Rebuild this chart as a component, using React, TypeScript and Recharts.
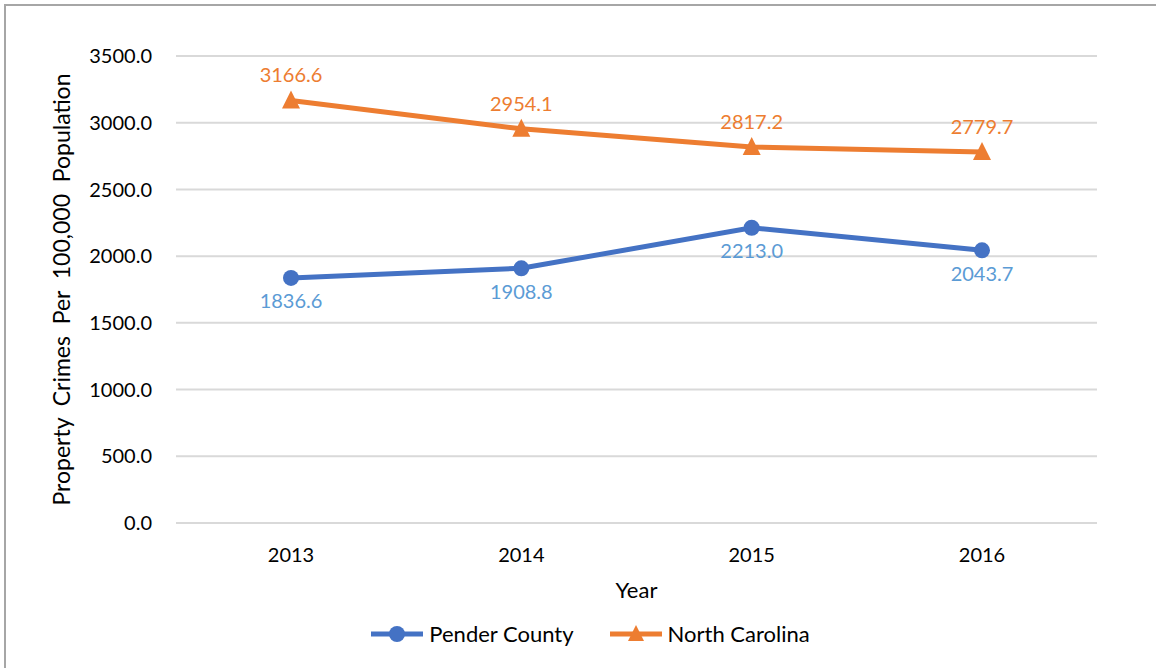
import { CartesianGrid, Legend, Line, LineChart, XAxis, YAxis } from "recharts";

const years = ["2013", "2014", "2015", "2016"];
const penderCounty = [1836.6, 1908.8, 2213.0, 2043.7];
const northCarolina = [3166.6, 2954.1, 2817.2, 2779.7];
const yTicks = [0, 500, 1000, 1500, 2000, 2500, 3000, 3500];

const data = years.map((year, i) => ({
  year,
  pender: penderCounty[i],
  nc: northCarolina[i],
}));

const BLUE = "#4472C4";
const BLUE_LABEL = "#5B9BD5";
const ORANGE = "#ED7D31";
const FONT = "Lato, 'Open Sans', sans-serif";

const Triangle = (props: any) => {
  const { cx, cy, index } = props;
  if (cx == null || cy == null) return null;
  return (
    <polygon
      key={`tri-${index}`}
      points={`${cx},${cy - 10} ${cx - 9},${cy + 8} ${cx + 9},${cy + 8}`}
      fill={ORANGE}
    />
  );
};

const LegendContent = () => (
  <div
    style={{
      display: "flex",
      justifyContent: "center",
      alignItems: "center",
      gap: 36,
      fontFamily: FONT,
      fontSize: 22,
      color: "#000",
      paddingTop: 22,
      paddingLeft: 84,
    }}
  >
    <div style={{ display: "flex", alignItems: "center", gap: 6 }}>
      <svg width={52} height={20}>
        <line x1={0} y1={10} x2={52} y2={10} stroke={BLUE} strokeWidth={5} />
        <circle cx={26} cy={10} r={8} fill={BLUE} />
      </svg>
      <span>Pender County</span>
    </div>
    <div style={{ display: "flex", alignItems: "center", gap: 6 }}>
      <svg width={52} height={20}>
        <line x1={0} y1={10} x2={52} y2={10} stroke={ORANGE} strokeWidth={5} />
        <polygon points="26,1 18,17 34,17" fill={ORANGE} />
      </svg>
      <span>North Carolina</span>
    </div>
  </div>
);

export default function App() {
  return (
    <div
      style={{
        position: "absolute",
        left: 0,
        top: 0,
        width: 1156,
        height: 668,
        overflow: "hidden",
        background: "#fff",
      }}
    >
      <div
        style={{
          position: "absolute",
          left: 4,
          top: 4,
          width: 1160,
          height: 680,
          borderLeft: "2px solid #a6a6a6",
          borderTop: "2px solid #a6a6a6",
        }}
      />
      <LineChart
        width={1156}
        height={668}
        data={data}
        margin={{ top: 56, right: 59, bottom: 10, left: 0 }}
        style={{ fontFamily: FONT }}
      >
        <CartesianGrid vertical={false} stroke="#d9d9d9" strokeWidth={2} />
        <XAxis
          dataKey="year"
          height={75}
          padding={{ left: 115, right: 115 }}
          axisLine={false}
          tickLine={false}
          tickSize={0}
          tickMargin={25}
          tick={{ fill: "#000", fontSize: 20 }}
          label={{ value: "Year", position: "insideBottom", offset: 0, fill: "#000", fontSize: 22 }}
        />
        <YAxis
          width={176}
          domain={[0, 3500]}
          ticks={yTicks}
          axisLine={false}
          tickLine={false}
          tickSize={0}
          tickMargin={24}
          tickFormatter={(v: number) => v.toFixed(1)}
          tick={{ fill: "#000", fontSize: 20 }}
          label={{
            value: "Property\u00A0 Crimes\u00A0 Per\u00A0 100,000\u00A0 Population",
            angle: -90,
            position: "insideLeft",
            offset: 62,
            fill: "#000",
            fontSize: 23,
            style: { textAnchor: "middle" },
          }}
        />
        <Legend verticalAlign="bottom" height={60} content={<LegendContent />} />
        <Line
          dataKey="pender"
          name="Pender County"
          stroke={BLUE}
          strokeWidth={5}
          dot={{ r: 8, fill: BLUE, stroke: BLUE, strokeWidth: 0 }}
          activeDot={false}
          isAnimationActive={false}
          label={{
            position: "bottom",
            offset: 16,
            fill: BLUE_LABEL,
            fontSize: 20,
            formatter: (v: any) => Number(v).toFixed(1),
          }}
        />
        <Line
          dataKey="nc"
          name="North Carolina"
          stroke={ORANGE}
          strokeWidth={5}
          dot={<Triangle />}
          activeDot={false}
          isAnimationActive={false}
          label={{
            position: "top",
            offset: 18,
            fill: ORANGE,
            fontSize: 20,
            formatter: (v: any) => Number(v).toFixed(1),
          }}
        />
      </LineChart>
    </div>
  );
}
